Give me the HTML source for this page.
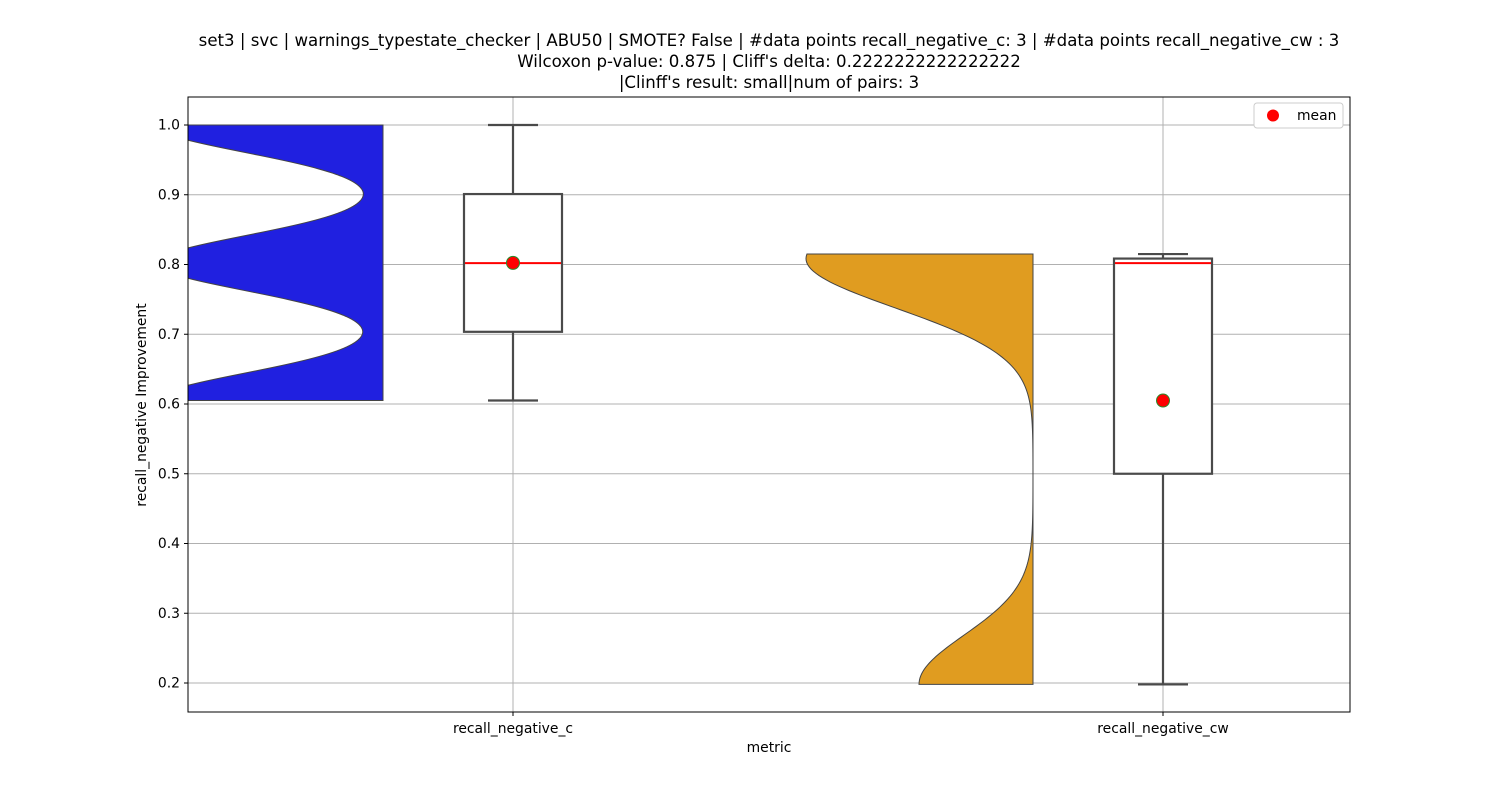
<!DOCTYPE html>
<html><head><meta charset="utf-8"><style>
body{margin:0;background:#fff;}
svg text{font-family:"DejaVu Sans","Liberation Sans",sans-serif;}
</style></head><body>
<svg id="chart" width="1500" height="800" xmlns="http://www.w3.org/2000/svg">
<rect width="1500" height="800" fill="#fff"/>
<defs><clipPath id="clip"><rect x="188" y="97" width="1162" height="615"/></clipPath></defs>
<g font-size="16.6" text-anchor="middle" fill="#000">
<text x="769" y="46">set3 | svc | warnings_typestate_checker | ABU50 | SMOTE? False | #data points recall_negative_c: 3 | #data points recall_negative_cw : 3</text>
<text x="769" y="67">Wilcoxon p-value: 0.875 | Cliff's delta: 0.2222222222222222</text>
<text x="769" y="88">|Clinff's result: small|num of pairs: 3</text>
</g>
<g id="grid"></g>
<g id="marks" clip-path="url(#clip)"></g>
<rect x="188" y="97" width="1162" height="615" fill="none" stroke="#000" stroke-width="1"/>
<g id="axes"></g>
<text x="769" y="752" font-size="13.9" text-anchor="middle">metric</text>
<text transform="translate(146,405) rotate(-90)" font-size="13.9" text-anchor="middle">recall_negative Improvement</text>
<g>
<rect x="1254" y="103" width="89" height="25" rx="3" fill="#fff" stroke="#ccc"/>
<circle cx="1273" cy="115.5" r="6" fill="red"/>
<text x="1297" y="120" font-size="13.9">mean</text>
</g>
</svg>
<script>
const categories = ["recall_negative_c", "recall_negative_cw"];
const valuesC = [0.605, 0.802, 1.0];
const valuesCW = [0.198, 0.802, 0.815];
const yTicks = [0.2, 0.3, 0.4, 0.5, 0.6, 0.7, 0.8, 0.9, 1.0];
const colors = ["#2020e0", "#e09c20"];

const NS = "http://www.w3.org/2000/svg";
const yS = v => 683 + (v - 0.2) * (125 - 683) / 0.8;
const xS = i => 513 + i * 650;
function mk(tag, attrs, parent) {
  const e = document.createElementNS(NS, tag);
  for (const k in attrs) e.setAttribute(k, attrs[k]);
  parent.appendChild(e); return e;
}
const grid = document.getElementById('grid'), marks = document.getElementById('marks'), axes = document.getElementById('axes');
yTicks.forEach(t => {
  const y = yS(t);
  const g = mk('line', {x1:188, x2:1350, y1:y, y2:y, stroke:'#b0b0b0', 'stroke-width':1}, grid);
  
  
  mk('line', {x1:184, x2:188, y1:y, y2:y, stroke:'#000'}, axes);
  const tx = mk('text', {x:180, y:y+4.5, 'font-size':13.9, 'text-anchor':'end'}, axes);
  tx.textContent = t.toFixed(1);
  
  
});
categories.forEach((c, i) => {
  const x = xS(i);
  const g = mk('line', {x1:x, x2:x, y1:97, y2:712, stroke:'#b0b0b0'}, grid);
  
  
  mk('line', {x1:x, x2:x, y1:712, y2:716, stroke:'#000'}, axes);
  const tx = mk('text', {x:x, y:733, 'font-size':13.9, 'text-anchor':'middle'}, axes);
  tx.textContent = c;
  
  
});
function quant(s, p) { const pos = (s.length - 1) * p, lo = Math.floor(pos), hi = Math.ceil(pos); return s[lo] + (s[hi] - s[lo]) * (pos - lo); }
[valuesC, valuesCW].forEach((vals, i) => {
  const s = vals.slice().sort((a, b) => a - b);
  const n = s.length, mean = s.reduce((a, b) => a + b, 0) / n;
  const sd = Math.sqrt(s.reduce((a, b) => a + (b - mean) ** 2, 0) / (n - 1));
  const h = 0.2 * sd;
  const dens = v => s.reduce((a, d) => a + Math.exp(-((v - d) ** 2) / (2 * h * h)), 0);
  const lo = s[0], hi = s[n - 1], N = 200;
  const pts = []; let mx = 0;
  for (let k = 0; k <= N; k++) { const v = lo + (hi - lo) * k / N; const d = dens(v); pts.push([v, d]); mx = Math.max(mx, d); }
  const edge = xS(i) - 130, W = 227;
  let d = `M${edge},${yS(lo)}`;
  pts.forEach(p => { d += `L${edge - W * p[1] / mx},${yS(p[0])}`; });
  d += `L${edge},${yS(hi)}Z`;
  const vp = mk('path', {d, fill:colors[i], stroke:'#444', 'stroke-width':1}, marks);
  
  
  const q1 = quant(s, 0.25), med = quant(s, 0.5), q3 = quant(s, 0.75), x = xS(i);
  const bg = mk('g', {stroke:'#4a4a4a', 'stroke-width':2.2, fill:'none'}, marks);
  
  
  mk('line', {x1:x, x2:x, y1:yS(q3), y2:yS(hi)}, bg);
  mk('line', {x1:x, x2:x, y1:yS(q1), y2:yS(lo)}, bg);
  mk('line', {x1:x-25, x2:x+25, y1:yS(hi), y2:yS(hi)}, bg);
  mk('line', {x1:x-25, x2:x+25, y1:yS(lo), y2:yS(lo)}, bg);
  mk('rect', {x:x-49, y:yS(q3), width:98, height:yS(q1)-yS(q3), fill:'#fff'}, bg);
  const ml = mk('line', {x1:x-48, x2:x+48, y1:yS(med), y2:yS(med), stroke:'red', 'stroke-width':2}, marks);
  
  
  const mc = mk('circle', {cx:x, cy:yS(mean), r:6.5, fill:'red', stroke:'#2a8a2a', 'stroke-width':1}, marks);
  
  
});
</script>
</body></html>
